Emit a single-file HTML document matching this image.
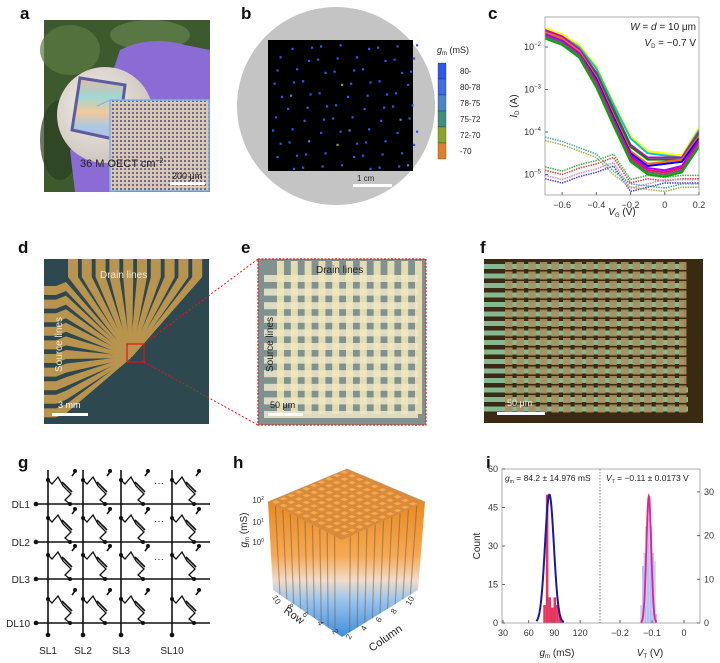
<!DOCTYPE html>
<html><head><meta charset="utf-8"><style>
html,body{margin:0;padding:0;background:#fff}
svg{display:block;font-family:"Liberation Sans",Arial,sans-serif}
</style></head><body>
<svg id="fig" width="720" height="663" viewBox="0 0 720 663" xmlns="http://www.w3.org/2000/svg">
<defs>
<linearGradient id="barGrad" x1="0" y1="0" x2="0" y2="1">
<stop offset="0" stop-color="#e88a22"/><stop offset="0.4" stop-color="#f6a955"/><stop offset="0.58" stop-color="#f2dccb"/><stop offset="0.72" stop-color="#9cc6ee"/><stop offset="1" stop-color="#3d8ee0"/></linearGradient>
<pattern id="insetPat" width="4" height="4" patternUnits="userSpaceOnUse"><rect width="4" height="4" fill="#d9c6b3"/><rect width="2" height="2" fill="#6c6a8c"/></pattern>
<radialGradient id="wafer" cx="0.4" cy="0.4" r="0.7"><stop offset="0" stop-color="#f3eee8"/><stop offset="1" stop-color="#c9c0b8"/></radialGradient>
<linearGradient id="rainbow" x1="0" y1="0" x2="0" y2="1"><stop offset="0" stop-color="#e6b8a8"/><stop offset="0.3" stop-color="#9fd8d2"/><stop offset="0.55" stop-color="#f3c89a"/><stop offset="0.8" stop-color="#a8c8e8"/><stop offset="1" stop-color="#c8b8d8"/></linearGradient>
</defs>

<g font-weight="bold" font-size="17" fill="#111">
<text x="20" y="19">a</text><text x="241" y="19">b</text><text x="488" y="19">c</text>
<text x="18" y="253">d</text><text x="241" y="253">e</text><text x="480" y="253">f</text>
<text x="18" y="468">g</text><text x="233" y="468">h</text><text x="486" y="468">i</text>
</g>

<g>
<rect x="44" y="20" width="166" height="172" fill="#3d5a2e"/>
<ellipse cx="70" cy="50" rx="30" ry="25" fill="#5c7a45" opacity="0.7"/>
<ellipse cx="150" cy="35" rx="40" ry="15" fill="#6d8a55" opacity="0.6"/>
<ellipse cx="60" cy="140" rx="20" ry="40" fill="#2a3f22" opacity="0.7"/>
<path d="M120 50 Q150 35 185 45 L210 50 L210 120 L150 110 L110 80 Z" fill="#8a6cd4"/>
<path d="M70 150 Q90 135 115 145 L130 175 L115 192 L75 192 Z" fill="#8a6cd4"/>
<circle cx="105" cy="115" r="48" fill="url(#wafer)"/>
<path d="M80 78 L125 85 L118 140 L72 130 Z" fill="url(#rainbow)" stroke="#5c5ca0" stroke-width="3"/>
<rect x="110" y="100" width="99" height="91" fill="url(#insetPat)" stroke="#7db4e8" stroke-width="1.5"/>
<line x1="97" y1="106" x2="110" y2="100" stroke="#7db4e8"/>
<text x="80" y="167" font-size="11" fill="#222">36 M OECT cm<tspan dy="-4" font-size="7">−2</tspan></text>
<text x="172" y="179" font-size="9" fill="#222">200 μm</text>
<rect x="170" y="182" width="35" height="3" fill="#fff"/>
</g>

<g>
<circle cx="336" cy="106" r="99" fill="#c4c4c4"/>
<rect x="268" y="40" width="145" height="131" fill="#000"/>
<g id="bdots"></g>
<text x="357" y="181" font-size="8" fill="#222">1 cm</text>
<rect x="353" y="184" width="39" height="3" fill="#fff"/>
<text x="437" y="53" font-size="9" fill="#222"><tspan font-style="italic">g</tspan><tspan font-size="6" dy="2">m</tspan><tspan dy="-2"> (mS)</tspan></text>
<g id="blegend"></g>
</g>

<g id="pc"></g>

<g>
<rect x="44" y="259" width="165" height="165" fill="#2e4850"/>
<g id="dlines"></g>
<text x="100" y="278" font-size="10" fill="#f0e6d0">Drain lines</text>
<text x="0" y="0" font-size="10" fill="#f0e6d0" transform="translate(62,372) rotate(-90)">Source lines</text>
<rect x="127" y="344" width="17" height="18" fill="none" stroke="#e11" stroke-width="1.2"/>
<text x="58" y="408" font-size="9" fill="#fff">3 mm</text>
<rect x="52" y="413" width="36" height="3" fill="#fff"/>
</g>
<g stroke="#e11" stroke-width="1" stroke-dasharray="2,2">
<line x1="144" y1="344" x2="258" y2="259"/><line x1="144" y1="362" x2="258" y2="425"/>
</g>

<g>
<rect x="258" y="259" width="168" height="166" fill="#7f9290"/>
<g id="egrid"></g>
<text x="316" y="273" font-size="10" fill="#222">Drain lines</text>
<text x="0" y="0" font-size="10" fill="#222" transform="translate(273,372) rotate(-90)">Source lines</text>
<text x="270" y="408" font-size="9" fill="#222">50 μm</text>
<rect x="268" y="413" width="35" height="3" fill="#fff"/>
<rect x="258" y="259" width="168" height="166" fill="none" stroke="#e11" stroke-dasharray="2,1.5" stroke-width="1.2"/>
</g>

<g>
<rect x="484" y="259" width="219" height="164" fill="#3a2a12"/>
<g id="fgrid"></g>
<text x="507" y="406" font-size="9" fill="#eee">50 μm</text>
<rect x="497" y="412" width="48" height="3" fill="#fff"/>
</g>

<g id="pg"></g>
<g id="ph"></g>
<g id="pi"></g>
</svg>

<script>
// ---------- panel c data ----------
const cVg = [-0.7,-0.6,-0.5,-0.4,-0.3,-0.2,-0.1,0,0.1,0.2];
const cSeries1 = [-1.55,-1.7,-1.95,-2.45,-3.3,-4.1,-4.45,-4.5,-4.55,-3.9];
const cSeries2 = [-1.6,-1.75,-2.05,-2.6,-3.45,-4.3,-4.6,-4.6,-4.6,-4.0];
const cSeries3 = [-1.65,-1.8,-2.1,-2.7,-3.6,-4.45,-4.75,-4.7,-4.65,-4.1];
const cSeries4 = [-1.7,-1.85,-2.15,-2.8,-3.7,-4.55,-4.85,-4.9,-4.8,-4.2];
const cSeries5 = [-1.75,-1.9,-2.2,-2.9,-3.8,-4.65,-4.95,-5.0,-4.9,-4.3];
const cNoise1 = [-4.9,-5.0,-4.85,-4.75,-4.6,-5.2,-5.1,-5.15,-5.1,-5.1];
const cNoise2 = [-5.1,-5.2,-5.05,-4.95,-4.8,-5.4,-5.3,-5.2,-5.2,-5.2];
const cNoise3 = [-4.2,-4.3,-4.45,-4.6,-5.0,-5.3,-5.35,-5.4,-5.3,-5.3];
const cTicksX = [-0.6,-0.4,-0.2,0,0.2];
const cTicksY = [-2,-3,-4,-5];
// ---------- panel i data ----------
const iGmBins = [77,80,83,86,89,92,95,98];
const iGmCounts = [7,50,10,6,10,7,3,1];
const iGmFit = [84.2, 5.2, 50];
const iVtBins = [-0.135,-0.13,-0.125,-0.12,-0.115,-0.11,-0.105,-0.1,-0.095,-0.09];
const iVtCounts = [4,13,16,22,24,29,22,16,14,2];
const iVtFit = [-0.11, 0.0075, 29];
const iTicksGm = [30,60,90,120];
const iTicksCountL = [0,15,30,45,60];
const iTicksVt = [-0.2,-0.1,0];
const iTicksCountR = [0,10,20,30];
// ---------- panel b legend ----------
const bLegendLabels = ["80-","80-78","78-75","75-72","72-70","-70"];
const bLegendColors = ["#2f57f0","#3f6ae8","#4a86c6","#3f8f7a","#8aa52a","#e2802a"];

const NS="http://www.w3.org/2000/svg";
function mk(tag,attrs,parent){const e=document.createElementNS(NS,tag);for(const k in attrs)e.setAttribute(k,attrs[k]);parent.appendChild(e);return e;}

(function(){
 const g=document.getElementById('bdots');
 for(let r=0;r<11;r++)for(let c=0;c<10;c++){
  if((r*7+c*3)%5===0)continue;
  const x=272+c*15+((r*5+c*3)%7)*1.5, y=43+r*12+((c*4+r)%5)*1.2;
  let col="#2f57f0"; if((r*3+c)%13===0)col="#4a86c6"; if(r===3&&c===4)col="#8aa52a"; if(r===8&&c===4)col="#8aa52a"; if(r===7&&c===2)col="#3f8f7a";
  const d=mk('rect',{x:x,y:y,width:2.2,height:2.2,fill:col},g);
  
  
 }
 const lg=document.getElementById('blegend');
 bLegendLabels.forEach((l,i)=>{
  const y=63+i*16;
  const s=mk('rect',{x:438,y:y,width:8,height:16,fill:bLegendColors[i],stroke:'#223',"stroke-width":0.3},lg);
  
  
  const t=mk('text',{x:460,y:y+11,"font-size":8,fill:'#222'},lg);t.textContent=l;
  
  
 });
})();

(function(){
 const g=document.getElementById('pc');
 const x0=545,x1=699,y0=17,y1=195;
 const sx=v=>x0+(v+0.7)/0.9*(x1-x0);
 const sy=v=>47+(-2-v)*42.5;
 const cp=mk('clipPath',{id:'cclip'},g);mk('rect',{x:x0,y:y0,width:x1-x0,height:y1-y0},cp);
 const pg=mk('g',{"clip-path":"url(#cclip)"},g);
 const noise=[cNoise1,cNoise2,cNoise3];const ncol=["#c44","#4a4","#44c","#c8c","#aa4","#4aa"];
 noise.forEach((s,i)=>{for(let k=0;k<2;k++){
  const p=mk('polyline',{points:s.map((v,j)=>sx(cVg[j])+","+sy(v+k*0.08)).join(" "),fill:"none",stroke:ncol[(i*2+k)%6],"stroke-width":1.5,"stroke-dasharray":"1.5,1"},pg);
  
  }});
 const ser=[cSeries1,cSeries2,cSeries3,cSeries4,cSeries5];
 const cols=["#ff0","#0cc","#c0c","#080","#f60","#00f","#a0f","#f06","#666","#0a0"];
 ser.forEach((s,i)=>{for(let k=0;k<2;k++){
  const p=mk('polyline',{points:s.map((v,j)=>sx(cVg[j])+","+sy(v-k*0.05)).join(" "),fill:"none",stroke:cols[i*2+k],"stroke-width":2,"stroke-linejoin":"round"},pg);
  
  }});
 const f=mk('rect',{x:x0,y:y0,width:x1-x0,height:y1-y0,fill:"none",stroke:"#999","stroke-width":0.8},g);
 
 cTicksX.forEach(v=>{mk('line',{x1:sx(v),x2:sx(v),y1:y1,y2:y1-3,stroke:"#666"},g);
  const t=mk('text',{x:sx(v),y:y1+13,"font-size":9,"text-anchor":"middle",fill:"#333"},g);t.textContent=(v===0?"0":v.toFixed(1).replace("-","−"));
  });
 cTicksY.forEach(v=>{mk('line',{x1:x0,x2:x0+3,y1:sy(v),y2:sy(v),stroke:"#666"},g);
  const t=mk('text',{x:x0-4,y:sy(v)+3,"font-size":9,"text-anchor":"end",fill:"#333"},g);t.innerHTML="10<tspan dy='-4' font-size='6'>"+String(v).replace("-","−")+"</tspan>";
  });
 let t=mk('text',{x:696,y:30,"font-size":10,"text-anchor":"end",fill:"#222"},g);t.innerHTML="<tspan font-style='italic'>W</tspan> = <tspan font-style='italic'>d</tspan> = 10 μm";
 
 t=mk('text',{x:696,y:46,"font-size":10,"text-anchor":"end",fill:"#222"},g);t.innerHTML="<tspan font-style='italic'>V</tspan><tspan font-size='6' dy='2'>D</tspan><tspan dy='-2'> = −0.7 V</tspan>";
 
 t=mk('text',{x:622,y:215,"font-size":10,"text-anchor":"middle",fill:"#222"},g);t.innerHTML="<tspan font-style='italic'>V</tspan><tspan font-size='6' dy='2'>G</tspan><tspan dy='-2'> (V)</tspan>";
 
 t=mk('text',{"font-size":10,"text-anchor":"middle",fill:"#222",transform:"translate(517,106) rotate(-90)"},g);t.innerHTML="<tspan font-style='italic'>I</tspan><tspan font-size='6' dy='2'>D</tspan><tspan dy='-2'> (A)</tspan>";
 
})();

(function(){
 const g=document.getElementById('dlines');const px=131,py=357;
 for(let i=0;i<10;i++){const x=68+i*13.8;
  const p=mk('polygon',{points:`${x},259 ${x+10},259 ${x+10},277 ${px+1},${py} ${px-1},${py} ${x},277`,fill:"#b8944f"},g);
  }
 for(let i=0;i<10;i++){const y=286+i*13.6;
  const p=mk('polygon',{points:`44,${y} 56,${y} 66,${y-4} ${px},${py-1} ${px},${py+1} 66,${y+5} 56,${y+9} 44,${y+9}`,fill:"#b8944f"},g);
  }
})();
(function(){
 const g=document.getElementById('egrid');
 for(let i=0;i<11;i++){const y=275+i*13.6;const r=mk('rect',{x:264,y:y,width:154,height:7,fill:"#efe7cf",opacity:0.85},g);
  }
 for(let i=0;i<11;i++){const x=277+i*13.8;const r=mk('rect',{x:x,y:261,width:7,height:153,fill:"#f5e7b8",opacity:0.85},g);
  }
})();
(function(){
 const g=document.getElementById('fgrid');
 for(let r=0;r<16;r++){const y=262+r*9.5;
  const b=mk('rect',{x:484,y:y+2,width:(r<13?200:204),height:5,fill:"#86b892"},g);
  
  for(let c=0;c<16;c++){const x=505+c*11.6;const s=mk('rect',{x:x,y:y,width:7.5,height:8,fill:"#a89060",opacity:0.9},g);
   }}
})();

(function(){
 const g=document.getElementById('pg');
 const vx=[48,83,121,172], dy=[504,542,579,623];
 const L=(a,b,c,d)=>mk('line',{x1:a,y1:b,x2:c,y2:d,stroke:"#111","stroke-width":1.6},g);
 vx.forEach(x=>{const l=L(x,470,x,635);
  mk('circle',{cx:x,cy:635,r:2.3,fill:"#111"},g);});
 dy.forEach(y=>{const l=L(35,y,210,y);
  mk('circle',{cx:36,cy:y,r:2.3,fill:"#111"},g);});
 ["DL1","DL2","DL3","DL10"].forEach((s,i)=>{const t=mk('text',{x:30,y:dy[i]+4,"font-size":10,"text-anchor":"end",fill:"#222"},g);t.textContent=s;
  });
 ["SL1","SL2","SL3","SL10"].forEach((s,i)=>{const t=mk('text',{x:vx[i],y:654,"font-size":10,"text-anchor":"middle",fill:"#222"},g);t.textContent=s;
  });
 dy.forEach(y=>vx.forEach(x=>{
  const t=y-30;
  const p=mk('path',{d:`M${x},${t+6} L${x+4},${t+10} L${x+10},${t+3} L${x+15},${t+12} L${x+23},${t+20} L${x+17},${t+26} L${x+22},${t+30}`,fill:"none",stroke:"#111","stroke-width":1.3},g);
  
  L(x+14,t+8,x+24,t+18);L(x+24,t+2,x+27,t-2);
  mk('circle',{cx:x,cy:t+6,r:2,fill:"#111"},g);mk('circle',{cx:x+27,cy:t-3,r:2,fill:"#111"},g);mk('circle',{cx:x+22,cy:y,r:2,fill:"#111"},g);
 }));
 [[154,470],[154,508],[154,546]].forEach(([x,y])=>{const t=mk('text',{x:x,y:y+16,"font-size":10,fill:"#111"},g);t.textContent="···";});
})();

(function(){
 const g=document.getElementById('ph');
 mk('polygon',{points:"268,502 347,469 425,502 342,540",fill:"none",stroke:"#bbb"},g);
 const left=mk('polygon',{points:"268,502 342,540 342,637 273,590",fill:"url(#barGrad)"},g);
 
 const right=mk('polygon',{points:"342,540 425,502 418,590 342,637",fill:"url(#barGrad)"},g);
 
 for(let i=1;i<10;i++){
  mk('line',{x1:268+i*7.4,y1:502+i*3.8,x2:273+i*6.9,y2:590+i*4.7,stroke:"#7a5a3a","stroke-width":1.2,opacity:0.5},g);
  mk('line',{x1:342+i*8.3,y1:540-i*3.8,x2:342+i*7.6,y2:637-i*4.7,stroke:"#7a5a3a","stroke-width":1.2,opacity:0.5},g);
 }
 mk('polygon',{points:"268,502 347,469 425,502 342,540",fill:"#d98a3a"},g);
 for(let r=0;r<10;r++)for(let c=0;c<10;c++){
  const x=272+c*7.6+r*7.6, y=502-c*3.3+r*3.5;
  const p=mk('polygon',{points:`${x},${y} ${x+4},${y-1.7} ${x+8},${y} ${x+4},${y+1.8}`,fill:"#f7a94c"},g);
  
 }
 ["2","1","0"].forEach((s,i)=>{const t=mk('text',{x:264,y:[503,525,545][i],"font-size":8,"text-anchor":"end",fill:"#333"},g);t.innerHTML="10<tspan dy='-3' font-size='5'>"+s+"</tspan>";
  });
 let t=mk('text',{"font-size":10,"text-anchor":"middle",fill:"#222",transform:"translate(247,530) rotate(-90)"},g);t.innerHTML="<tspan font-style='italic'>g</tspan><tspan font-size='6' dy='2'>m</tspan><tspan dy='-2'> (mS)</tspan>";
 
 ["10","8","6","4","2"].forEach((s,i)=>{const x=272+i*15,y=597+i*8.5;const tt=mk('text',{"font-size":8,fill:"#333",transform:`translate(${x},${y}) rotate(60)`},g);tt.textContent=s;});
 ["2","4","6","8","10"].forEach((s,i)=>{const x=350+i*15,y=640-i*8.5;const tt=mk('text',{"font-size":8,fill:"#333",transform:`translate(${x},${y}) rotate(-60)`},g);tt.textContent=s;});
 t=mk('text',{"font-size":11,fill:"#222",transform:"translate(283,612) rotate(35)"},g);t.textContent="Row";
 
 t=mk('text',{"font-size":11,fill:"#222",transform:"translate(372,652) rotate(-35)"},g);t.textContent="Column";
 
})();

(function(){
 const g=document.getElementById('pi');
 const x0=502,xm=600,x1=700,y0=469,y1=623;
 const sxL=v=>503+(v-30)/30*25.7, syL=v=>y1-v/60*(y1-y0);
 const sxR=v=>684+v/0.1*32, syR=v=>y1-v/10*43.7;
 iGmBins.forEach((b,i)=>{const r=mk('rect',{x:sxL(b),y:syL(iGmCounts[i]),width:sxL(b+3)-sxL(b),height:y1-syL(iGmCounts[i]),fill:"#e8335f"},g);
  });
 iVtBins.forEach((b,i)=>{const r=mk('rect',{x:sxR(b),y:syR(iVtCounts[i]),width:sxR(b+0.005)-sxR(b),height:y1-syR(iVtCounts[i]),fill:"#c8d2fb",stroke:"#9fb0f5","stroke-width":0.5},g);
  });
 let pts=[];for(let v=69;v<=101;v+=0.5)pts.push(sxL(v)+","+syL(iGmFit[2]*Math.exp(-((v-iGmFit[0])**2)/(2*iGmFit[1]**2))));
 let p=mk('polyline',{points:pts.join(" "),fill:"none",stroke:"#1a1aa0","stroke-width":2},g);
 
 pts=[];for(let v=-0.135;v<=-0.085;v+=0.001)pts.push(sxR(v)+","+syR(iVtFit[2]*Math.exp(-((v-iVtFit[0])**2)/(2*iVtFit[1]**2))));
 p=mk('polyline',{points:pts.join(" "),fill:"none",stroke:"#e8208a","stroke-width":1.8},g);
 
 mk('rect',{x:x0,y:y0,width:x1-x0,height:y1-y0,fill:"none",stroke:"#999","stroke-width":0.8},g);
 mk('line',{x1:xm,x2:xm,y1:y0,y2:y1,stroke:"#888","stroke-dasharray":"1.5,1.5"},g);
 iTicksGm.forEach(v=>{const t=mk('text',{x:sxL(v),y:y1+13,"font-size":9,"text-anchor":"middle",fill:"#333"},g);t.textContent=v;mk('line',{x1:sxL(v),x2:sxL(v),y1:y1,y2:y1-3,stroke:"#666"},g);
  });
 iTicksVt.forEach(v=>{const t=mk('text',{x:sxR(v),y:y1+13,"font-size":9,"text-anchor":"middle",fill:"#333"},g);t.textContent=v===0?"0":v.toFixed(1).replace("-","−");mk('line',{x1:sxR(v),x2:sxR(v),y1:y1,y2:y1-3,stroke:"#666"},g);
  });
 iTicksCountL.forEach(v=>{const t=mk('text',{x:x0-4,y:syL(v)+3,"font-size":9,"text-anchor":"end",fill:"#333"},g);t.textContent=v;mk('line',{x1:x0,x2:x0+3,y1:syL(v),y2:syL(v),stroke:"#666"},g);
  });
 iTicksCountR.forEach(v=>{const t=mk('text',{x:x1+4,y:syR(v)+3,"font-size":9,fill:"#333"},g);t.textContent=v;mk('line',{x1:x1,x2:x1-3,y1:syR(v),y2:syR(v),stroke:"#666"},g);
  });
 let t=mk('text',{x:505,y:481,"font-size":8.5,fill:"#222"},g);t.innerHTML="<tspan font-style='italic'>g</tspan><tspan font-size='5' dy='2'>m</tspan><tspan dy='-2'> = 84.2 ± 14.976 mS</tspan>";
 
 t=mk('text',{x:606,y:481,"font-size":8.5,fill:"#222"},g);t.innerHTML="<tspan font-style='italic'>V</tspan><tspan font-size='5' dy='2'>T</tspan><tspan dy='-2'> = −0.11 ± 0.0173 V</tspan>";
 
 t=mk('text',{x:557,y:656,"font-size":10,"text-anchor":"middle",fill:"#222"},g);t.innerHTML="<tspan font-style='italic'>g</tspan><tspan font-size='6' dy='2'>m</tspan><tspan dy='-2'> (mS)</tspan>";
 
 t=mk('text',{x:650,y:656,"font-size":10,"text-anchor":"middle",fill:"#222"},g);t.innerHTML="<tspan font-style='italic'>V</tspan><tspan font-size='6' dy='2'>T</tspan><tspan dy='-2'> (V)</tspan>";
 
 t=mk('text',{"font-size":10,"text-anchor":"middle",fill:"#222",transform:"translate(480,546) rotate(-90)"},g);t.textContent="Count";
 
})();
</script>
</body></html>
